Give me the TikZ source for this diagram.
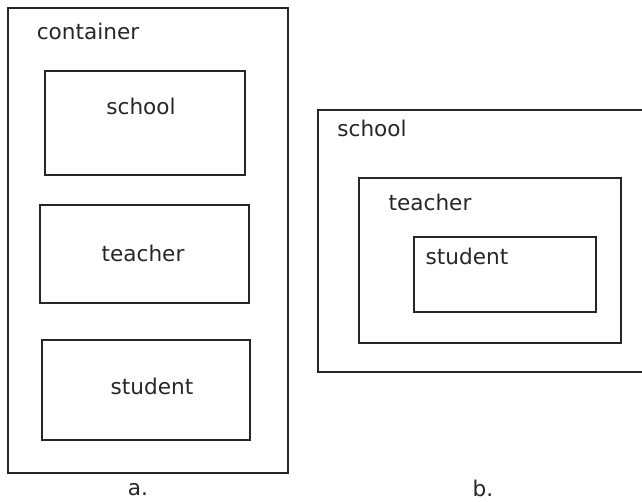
\documentclass[tikz,border=0pt]{standalone}
\usepackage{fontspec}
\setmainfont{DejaVu Sans}
\begin{document}
\begin{tikzpicture}[x=0.02cm,y=-0.02cm,line width=0.8pt,color={black!85},
  lbl/.style={inner sep=0pt,font=\fontsize{12.3}{14}\selectfont}]
\useasboundingbox (0,0) rectangle (642,501);
\clip (0,0) rectangle (642,501);

% a.
\draw (8,8) rectangle (288,473);
\draw (45,71) rectangle (245,175);
\draw (40,205) rectangle (249,303);
\draw (42,340) rectangle (250,440);

\node[lbl] (container) at (88,31) {container};
\node[lbl] (schoolA) at (141,106) {school};
\node[lbl] (teacherA) at (143,253) {teacher};
\node[lbl] (studentA) at (152,386) {student};
\node[lbl] (capA) at (138,490) {a.};

% b.
\draw (660,110) -- (318,110) -- (318,372) -- (660,372);
\draw (359,178) rectangle (621,343);
\draw (414,237) rectangle (596,312);

\node[lbl] (schoolB) at (372,128) {school};
\node[lbl] (teacherB) at (430,202) {teacher};
\node[lbl] (studentB) at (467,256) {student};
\node[lbl] (capB) at (483,488) {b.};
\end{tikzpicture}
\end{document}
